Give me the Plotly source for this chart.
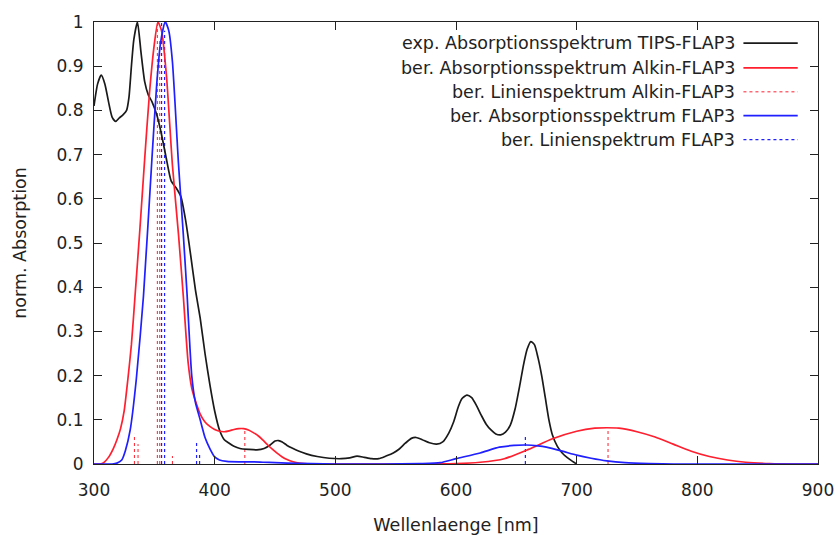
import plotly.graph_objects as go

# --- experimental absorption spectrum, TIPS-FLAP3 ---
exp_nm = [300, 303, 306, 309, 312, 315, 318, 321, 324, 327, 329, 331, 333, 336, 339,
          342, 345, 348, 352, 356, 360, 364, 368, 372, 376, 380, 384, 388, 392, 396,
          400, 404, 408, 412, 416, 421, 428, 435, 441, 446, 450, 453, 456, 460, 465,
          470, 476, 485, 495, 505, 512, 518, 524, 530, 536, 542, 548, 553, 558, 563,
          567, 572, 578, 584, 589, 594, 598, 602, 605, 609, 613, 617, 621, 625, 629,
          633, 637, 641, 645, 649, 653, 656, 659, 662, 665, 668, 671, 674, 677, 680,
          684, 688, 692, 696, 700]
exp_abs = [0.81, 0.86, 0.88, 0.86, 0.82, 0.785, 0.775, 0.783, 0.79, 0.80, 0.83, 0.90, 0.96, 1.0, 0.93,
           0.865, 0.835, 0.82, 0.79, 0.745, 0.69, 0.64, 0.625, 0.605, 0.55, 0.475, 0.395, 0.33, 0.25, 0.18,
           0.12, 0.077, 0.055, 0.047, 0.04, 0.035, 0.033, 0.032, 0.035, 0.043, 0.052, 0.053, 0.05, 0.042, 0.035,
           0.029, 0.023, 0.017, 0.013, 0.012, 0.014, 0.018, 0.015, 0.012, 0.012, 0.018, 0.025, 0.034, 0.047, 0.058,
           0.06, 0.055, 0.048, 0.045, 0.05, 0.07, 0.095, 0.13, 0.148, 0.156, 0.15, 0.132, 0.11, 0.09, 0.077,
           0.068, 0.066, 0.072, 0.088, 0.125, 0.18, 0.225, 0.26, 0.277, 0.27, 0.24, 0.2, 0.15, 0.1, 0.065,
           0.04, 0.025, 0.015, 0.007, 0.0]

# --- calculated absorption spectrum, Alkin-FLAP3 ---
alkin_nm = [300, 305, 308, 312, 316, 319, 322, 325, 328, 331, 334, 338, 342, 346, 350,
            353, 356, 360, 365, 370, 374, 378, 381, 385, 388, 392, 396, 400, 404, 408,
            412, 416, 420, 424, 428, 432, 436, 440, 444, 448, 452, 456, 460, 465, 470,
            480, 500, 550, 600, 620, 640, 660, 680, 700, 715, 725, 735, 750, 765, 780,
            795, 810, 825, 840, 860, 880, 900]
alkin_abs = [0.0, 0.0, 0.003, 0.015, 0.035, 0.055, 0.08, 0.12, 0.19, 0.27, 0.38, 0.53, 0.69, 0.84, 0.95,
             1.0, 0.98, 0.88, 0.676, 0.52, 0.38, 0.23, 0.172, 0.135, 0.113, 0.095, 0.085, 0.078, 0.074, 0.073,
             0.075, 0.078, 0.08, 0.08, 0.077, 0.071, 0.064, 0.054, 0.043, 0.033, 0.024, 0.016, 0.01, 0.005, 0.002,
             0.0, 0.0, 0.0, 0.001, 0.004, 0.012, 0.033, 0.057, 0.074, 0.081, 0.082, 0.081, 0.073, 0.061, 0.045,
             0.029, 0.017, 0.009, 0.004, 0.001, 0.0, 0.0]

# --- calculated absorption spectrum, FLAP3 ---
flap_nm = [300, 315, 319, 323, 326, 330, 335, 341, 348, 352, 355, 359, 362, 365, 370,
           374, 377, 381, 384, 388, 392, 396, 400, 404, 410, 420, 430, 440, 450, 460,
           480, 500, 540, 570, 587, 600, 620, 636, 648, 658, 668, 675, 688, 700, 712,
           725, 740, 760, 780, 900]
flap_abs = [0.0, 0.0, 0.002, 0.009, 0.03, 0.077, 0.19, 0.38, 0.69, 0.86, 0.95, 1.0, 0.98, 0.91, 0.68,
            0.52, 0.39, 0.2, 0.14, 0.1, 0.06, 0.035, 0.016, 0.009, 0.006, 0.005, 0.005, 0.004, 0.003, 0.002,
            0.001, 0.0, 0.0, 0.001, 0.003, 0.012, 0.025, 0.038, 0.042, 0.043, 0.041, 0.038, 0.029, 0.02, 0.013,
            0.007, 0.003, 0.001, 0.0, 0.0]

# --- calculated line spectra (transition positions, normalised intensity) ---
alkin_line_nm = [333.5, 336.5, 352.5, 354.5, 365, 425, 726]
alkin_line_f = [0.068, 0.045, 1.0, 0.96, 0.018, 0.077, 0.081]
flap_line_nm = [356, 358.5, 385, 387.5, 657.5]
flap_line_f = [1.0, 0.98, 0.05, 0.025, 0.066]

legend_labels = [
    "exp. Absorptionsspektrum TIPS-FLAP3",
    "ber. Absorptionsspektrum Alkin-FLAP3",
    "ber. Linienspektrum Alkin-FLAP3",
    "ber. Absorptionsspektrum FLAP3",
    "ber. Linienspektrum FLAP3",
]

x_ticks = [300, 400, 500, 600, 700, 800, 900]
y_ticks = [0, 0.1, 0.2, 0.3, 0.4, 0.5, 0.6, 0.7, 0.8, 0.9, 1]
y_tick_text = ["0", "0.1", "0.2", "0.3", "0.4", "0.5", "0.6", "0.7", "0.8", "0.9", "1"]

BLACK = "#1a1a1a"
RED = "#ff1f2e"
BLUE = "#1f1fff"
TEXT = "#222"
FONT = "DejaVu Sans"
LW = 1.7


def impulses(xs, hs):
    px, py = [], []
    for x, h in zip(xs, hs):
        px += [x, x, None]
        py += [0, h, None]
    return px, py


fig = go.Figure()

ax, ay = impulses(alkin_line_nm, alkin_line_f)
bx, by = impulses(flap_line_nm, flap_line_f)
fig.add_trace(go.Scatter(x=ax, y=ay, mode="lines", line=dict(color=RED, width=1, dash="dot"),
                         name=legend_labels[2]))
fig.add_trace(go.Scatter(x=bx, y=by, mode="lines", line=dict(color=BLUE, width=1.2, dash="dot"),
                         name=legend_labels[4]))
fig.add_trace(go.Scatter(x=exp_nm, y=exp_abs, mode="lines",
                         line=dict(color=BLACK, width=LW, shape="spline", smoothing=0.6),
                         name=legend_labels[0]))
fig.add_trace(go.Scatter(x=alkin_nm, y=alkin_abs, mode="lines",
                         line=dict(color=RED, width=LW, shape="spline", smoothing=0.6),
                         name=legend_labels[1]))
fig.add_trace(go.Scatter(x=flap_nm, y=flap_abs, mode="lines",
                         line=dict(color=BLUE, width=LW, shape="spline", smoothing=0.6),
                         name=legend_labels[3]))

# key: right-aligned text followed by a line sample, inside the upper right corner
key_styles = [
    dict(color=BLACK, width=LW, dash="solid"),
    dict(color=RED, width=LW, dash="solid"),
    dict(color=RED, width=1, dash="dot"),
    dict(color=BLUE, width=LW, dash="solid"),
    dict(color=BLUE, width=1.2, dash="dot"),
]
key_y = [0.952, 0.896, 0.842, 0.788, 0.734]
for label, style, yk in zip(legend_labels, key_styles, key_y):
    fig.add_annotation(x=0.888, y=yk, xref="paper", yref="paper", text=label,
                       showarrow=False, xanchor="right", yanchor="middle",
                       font=dict(family=FONT, size=17.5, color=TEXT))
    fig.add_shape(type="line", xref="paper", yref="paper", x0=0.897, x1=0.972,
                  y0=yk, y1=yk, line=style)

axis_common = dict(showline=True, linecolor=TEXT, linewidth=1.2, mirror="ticks",
                   ticks="inside", ticklen=8, tickcolor=TEXT, tickwidth=1.2,
                   showgrid=False, zeroline=False, automargin=False,
                   tickfont=dict(family=FONT, size=17, color=TEXT))

fig.update_xaxes(range=[300, 900], tickvals=x_ticks, ticklabelstandoff=10,
                 title=dict(text="Wellenlaenge [nm]", standoff=20,
                            font=dict(family=FONT, size=17.5, color=TEXT)),
                 **axis_common)
fig.update_yaxes(range=[0, 1], tickvals=y_ticks, ticktext=y_tick_text, ticklabelstandoff=6,
                 title=dict(text="norm. Absorption", standoff=25,
                            font=dict(family=FONT, size=17.5, color=TEXT)),
                 **axis_common)

fig.update_layout(width=839, height=536, margin=dict(l=94, r=21, t=22, b=72),
                  paper_bgcolor="white", plot_bgcolor="white", showlegend=False)

fig.write_html("out.html")
